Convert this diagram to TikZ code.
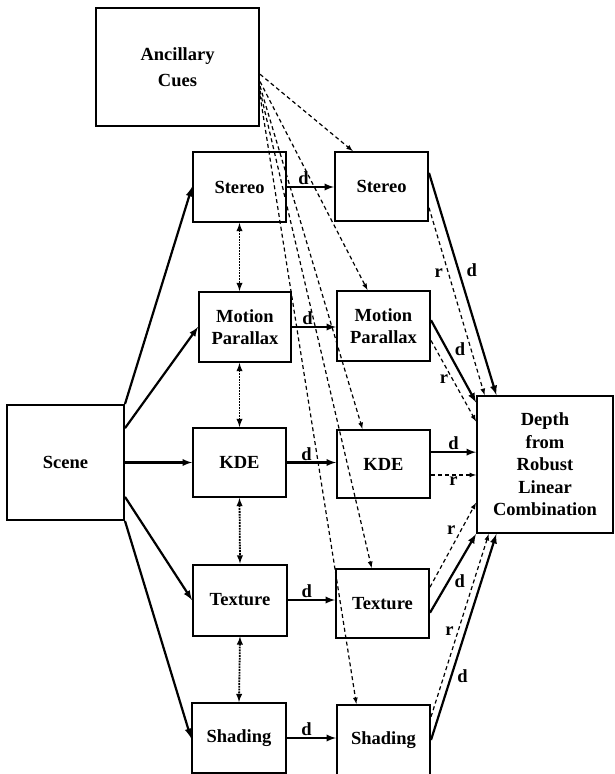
\documentclass[tikz,border=0pt]{standalone}
\usepackage{fontspec}
\setmainfont{Liberation Serif}
\usetikzlibrary{calc}

\begin{document}
\begin{tikzpicture}[x=1pt, y=-1pt, >=latex,
        box/.style={draw, line width=2pt, align=center, inner sep=0pt,
            font=\bfseries\fontsize{18.5}{22.5}\selectfont},
        lbl/.style={font=\bfseries\fontsize{18.5}{20}\selectfont, inner sep=1pt},
        sol/.style={->, line width=2.2pt},
        dsh/.style={->, line width=1.2pt, dash pattern=on 4pt off 3pt},
        dot/.style={<->, line width=1.8pt, densely dotted}]
            \useasboundingbox (0,0) rectangle (614,774);
            \node[box, minimum width=163pt, minimum height=118pt] (cues) at (177.5,67) {Ancillary\\[4pt]Cues};
            \node[box, minimum width=117pt, minimum height=115pt] (scene) at (65.5,462.5) {Scene};
            \node[box, minimum width=93pt, minimum height=70pt] (stereoL) at (239.5,187) {Stereo};
            \node[box, minimum width=92pt, minimum height=70pt] (motionL) at (245,327) {Motion\\Parallax};
            \node[box, minimum width=93pt, minimum height=69pt] (kdeL) at (239.5,462.5) {KDE};
            \node[box, minimum width=94pt, minimum height=71pt] (textureL) at (240,600) {Texture};
            \node[box, minimum width=94pt, minimum height=70pt] (shadingL) at (239,738) {Shading};
            \node[box, minimum width=93pt, minimum height=69pt] (stereoR) at (381.5,186.5) {Stereo};
            \node[box, minimum width=93pt, minimum height=70pt] (motionR) at (383.5,326) {Motion\\Parallax};
            \node[box, minimum width=93pt, minimum height=68pt] (kdeR) at (383.5,464) {KDE};
            \node[box, minimum width=93pt, minimum height=69pt] (textureR) at (382.5,603.5) {Texture};
            \node[box, minimum width=93pt, minimum height=70pt] (shadingR) at (383.5,740) {Shading};
            \node[box, minimum width=136pt, minimum height=137pt] (depth) at (545,464.5) {Depth\\from\\Robust\\Linear\\Combination};

            \draw[sol] (scene.north east) -- (stereoL.west);
            \draw[sol] (scene.30) -- (motionL.west);
            \draw[sol] (scene.east) -- (kdeL.west);
            \draw[sol] (scene.-30) -- (textureL.west);
            \draw[sol] (scene.south east) -- (shadingL.west);

            \draw[dot] (stereoL.south) -- (stereoL.south |- motionL.north);
            \draw[dot] (kdeL.north |- motionL.south) -- (kdeL.north);
            \draw[dot] (kdeL.south) -- (textureL.north);
            \draw[dot] (textureL.south) -- (shadingL.north);

            \draw[sol] (stereoL.east) -- node[lbl, above, pos=0.35]{d} (stereoL.east -| stereoR.west);
            \draw[sol] (motionL.east) -- node[lbl, above, pos=0.35]{d} (motionL.east -| motionR.west);
            \draw[sol] (kdeL.east) -- node[lbl, above, pos=0.4]{d} (kdeL.east -| kdeR.west);
            \draw[sol] (textureL.east) -- node[lbl, above, pos=0.4]{d} (textureL.east -| textureR.west);
            \draw[sol] (shadingL.east) -- node[lbl, above, pos=0.4]{d} (shadingL.east -| shadingR.west);

            \draw[dsh] (cues.-5) -- (stereoR.129.6);
            \draw[dsh] (cues.-10) -- (motionR.114);
            \draw[dsh] (cues.-13) -- (kdeR.121);
            \draw[dsh] (cues.-16) -- (textureR.107);
            \draw[dsh] (cues.-19) -- (shadingR.127);

            \draw[sol] (stereoR.16) -- node[lbl, right=6pt, pos=0.44]{d} (depth.125);
            \draw[dsh] (stereoR.-24) -- node[lbl, left=4pt, pos=0.35]{r} (depth.131);
            \draw[sol] (motionR.7) -- node[lbl, right=6pt, pos=0.35]{d} (depth.138.8);
            \draw[dsh] (motionR.-17) -- node[lbl, left=3pt, pos=0.48]{r} (depth.148.6);
            \draw[sol] (kdeR.14) -- node[lbl, above]{d} (kdeR.14 -| depth.west);
            \draw[dsh] (kdeR.-13) -- node[lbl, below]{r} (kdeR.-13 -| depth.west);
            \draw[dsh] (textureR.19) -- node[lbl, left=4pt, pos=0.67]{r} (depth.-151);
            \draw[sol] (textureR.-11) -- node[lbl, right=4pt, pos=0.4]{d} (depth.south west);
            \draw[dsh] (shadingR.26) -- node[lbl, left=3pt, pos=0.47]{r} (depth.-129.8);
            \draw[sol] (shadingR.east) -- node[lbl, right=4pt, pos=0.31]{d} (depth.-125);
        \end{tikzpicture}
\end{document}
